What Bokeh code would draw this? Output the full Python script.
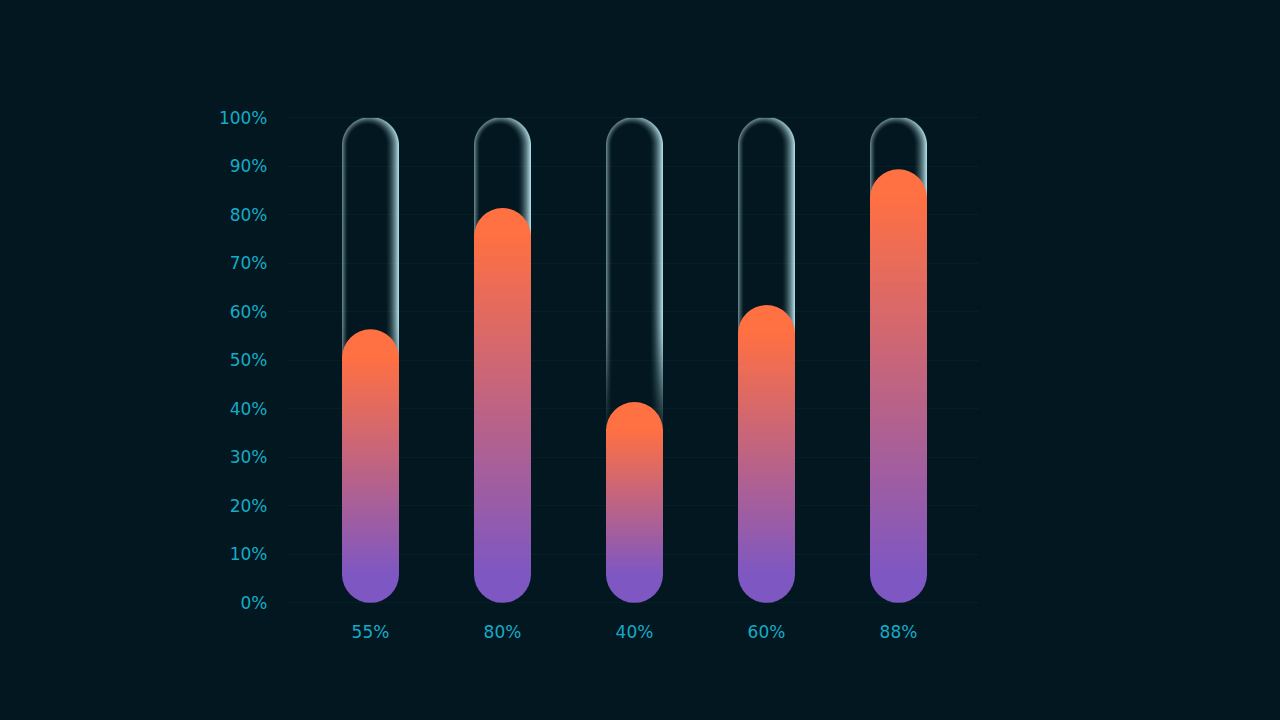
import numpy as np
from bokeh.plotting import figure
from bokeh.models import Range1d, FixedTicker
from bokeh.embed import file_html
from bokeh.resources import INLINE

# ---------------- data ----------------
categories = ["A", "B", "C", "D", "E"]
values = [55, 80, 40, 60, 88]
x_labels = [f"{v}%" for v in values]
y_ticks = [0, 10, 20, 30, 40, 50, 60, 70, 80, 90, 100]
y_tick_labels = [f"{t}%" for t in y_ticks]
tube_max = 100

# ---------------- style ----------------
BG = "#02171f"
LABEL = "#14acc8"
GRID = "#061e25"
ORANGE = np.array([255, 112, 67], dtype=float)
PURPLE = np.array([126, 87, 194], dtype=float)

FRAME_W, FRAME_H = 692, 514
PX_X = 132.0                      # pixels per category
Y0, Y1 = -2.0, 104.0
PY = FRAME_H / (Y1 - Y0)          # pixels per y unit
X0 = -83.0 / PX_X
TUBE_PX = 57.0
half_w = TUBE_PX / 2.0 / PX_X
ry = TUBE_PX / 2.0 / PY
TOP_PAD = 1.4

p = figure(frame_width=FRAME_W, frame_height=FRAME_H,
           x_range=Range1d(X0, X0 + FRAME_W / PX_X), y_range=Range1d(Y0, Y1),
           output_backend="svg", toolbar_location=None,
           min_border_left=287, min_border_right=301,
           min_border_top=98, min_border_bottom=108,
           background_fill_color=BG, border_fill_color=BG,
           outline_line_color=None)

# axes
for ax in (p.xaxis, p.yaxis):
    ax.axis_line_color = None
    ax.major_tick_line_color = None
    ax.minor_tick_line_color = None
    ax.major_tick_out = 0
    ax.major_label_text_color = LABEL
    ax.major_label_text_font = "DejaVu Sans"
    ax.major_label_text_font_size = "17px"
p.xaxis.ticker = FixedTicker(ticks=list(range(len(values))))
p.xaxis.major_label_overrides = {i: lbl for i, lbl in enumerate(x_labels)}
p.xaxis.major_label_standoff = 9
p.yaxis.ticker = FixedTicker(ticks=y_ticks)
p.yaxis.major_label_overrides = {t: lbl for t, lbl in zip(y_ticks, y_tick_labels)}
p.yaxis.major_label_standoff = 20
p.xgrid.visible = False
p.ygrid.ticker = FixedTicker(ticks=y_ticks)
p.ygrid.grid_line_color = GRID
p.ygrid.grid_line_width = 1

# ---------------- glass tube glow (image texture) ----------------
H = int(round(tube_max * PY))
W = int(TUBE_PX)
ys = (np.arange(H) + 0.5)[:, None]
xs = (np.arange(W) + 0.5)[None, :]
R = W / 2.0
dx = xs - R
dy_t = ys - (H - R)
dy_b = ys - R
dyy = np.where(dy_t > 0, dy_t, np.where(dy_b < 0, dy_b, 0.0))
dist = np.sqrt(dx ** 2 + dyy ** 2)
d_edge = R - dist
cosv = dx / np.maximum(dist, 1e-6)
wr = np.clip((cosv + 1) / 2, 0, 1) ** 1.8
A = 0.8 + (1.0 - 0.8) * wr
L = 6.5 + (14.0 - 6.5) * wr
cov = np.clip(d_edge + 0.5, 0, 1)
prof = np.clip(1 - np.maximum(d_edge, 0) / L, 0, 1) ** 1.7
yd = ys / PY
v = np.clip((yd - 30.0) / 30.0, 0, 1)
v = v * v * (3 - 2 * v)
alpha = A * prof * cov * v
col_l = np.array([140, 170, 176], dtype=float)
col_r = np.array([185, 228, 236], dtype=float)
rgb = col_l[None, None, :] * (1 - wr[..., None]) + col_r[None, None, :] * wr[..., None]
img = np.empty((H, W), dtype=np.uint32)
view = img.view(dtype=np.uint8).reshape((H, W, 4))
view[..., 0] = np.clip(rgb[..., 0], 0, 255).astype(np.uint8)
view[..., 1] = np.clip(rgb[..., 1], 0, 255).astype(np.uint8)
view[..., 2] = np.clip(rgb[..., 2], 0, 255).astype(np.uint8)
view[..., 3] = np.clip(alpha * 255, 0, 255).astype(np.uint8)

n = len(values)
p.image_rgba(image=[img] * n, x=[i - half_w for i in range(n)], y=[0] * n,
             dw=[2 * half_w] * n, dh=[tube_max] * n)

# ---------------- gradient bars ----------------
def grad(t):
    t = min(max(t, 0.0), 1.0)
    c = PURPLE * (1 - t) + ORANGE * t
    return "#%02x%02x%02x" % tuple(int(round(x)) for x in c)

lefts, rights, bottoms, tops, cols = [], [], [], [], []
top_caps_y = []
for i, val in enumerate(values):
    top = val + TOP_PAD
    yb, yt = ry, top - ry
    k = int(np.ceil((yt - yb) / 0.8))
    edges = np.linspace(yb, yt, k + 1)
    for j in range(k):
        b = edges[j] - (0.3 if j == 0 else 0.0)
        tp = edges[j + 1] + 0.6
        lefts.append(i - half_w)
        rights.append(i + half_w)
        bottoms.append(b)
        tops.append(min(tp, yt + 0.3))
        cols.append(grad((j + 0.5) / k))
    top_caps_y.append(yt)

p.quad(left=lefts, right=rights, bottom=bottoms, top=tops,
       fill_color=cols, line_color=None)
p.wedge(x=list(range(n)), y=top_caps_y, radius=TUBE_PX / 2.0, radius_units="screen",
        start_angle=0, end_angle=np.pi, fill_color=grad(1.0), line_color=None)
p.wedge(x=list(range(n)), y=[ry] * n, radius=TUBE_PX / 2.0, radius_units="screen",
        start_angle=np.pi, end_angle=2 * np.pi, fill_color=grad(0.0), line_color=None)

# ---------------- output ----------------
try:
    from bokeh.core.templates import get_env
    tmpl = get_env().from_string(
        '{% extends "file.html" %}{% block preamble %}'
        '<style>html,body{background:' + BG + ';}</style>{% endblock %}')
    html = file_html(p, INLINE, template=tmpl)
except Exception:
    html = file_html(p, INLINE)
open("out.html", "w").write(html)
